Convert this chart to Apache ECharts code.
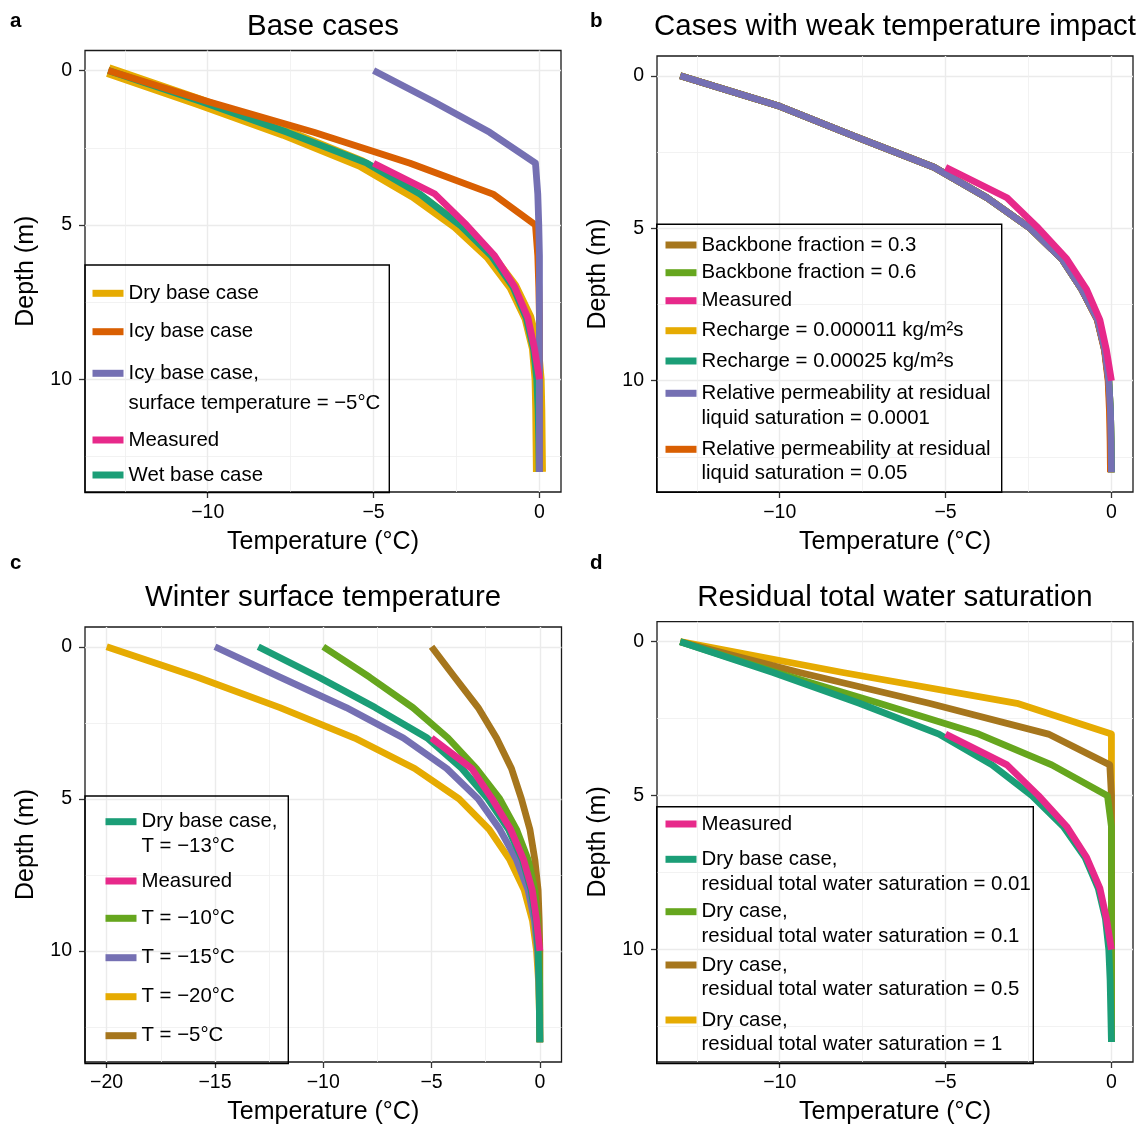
<!DOCTYPE html>
<html>
<head>
<meta charset="utf-8">
<title>Temperature profiles</title>
<script src="https://cdn.jsdelivr.net/npm/echarts@6/dist/echarts.min.js"></script>
<style>
  html, body { margin: 0; padding: 0; background: #fff; }
  #chart { width: 1142px; height: 1126px; }
</style>
</head>
<body>
<div id="chart"></div>
<script>
// depths (m) of the modelled profiles and of the measured profile
var depthModel = [0, 1, 2, 3, 4, 5, 6, 7, 8, 9, 10, 11, 12, 13];
var depthMeasured = [3, 4, 5, 6, 7, 8, 9, 10];
var measured = [-5.0, -3.15, -2.2, -1.35, -0.75, -0.35, -0.15, 0.0];

// a - base cases
var aDryBase = [-13.0, -10.3, -7.7, -5.4, -3.8, -2.5, -1.5, -0.8, -0.35, -0.12, -0.04, -0.02, -0.01, 0.0];
var aWetBase = [-13.0, -10.2, -7.6, -5.2, -3.6, -2.4, -1.45, -0.8, -0.4, -0.18, -0.08, -0.04, -0.02, -0.01];
var aIcyBase = [-13.0, -10.0, -6.8, -3.9, -1.4, -0.12, -0.05, -0.02, 0, 0, 0, 0, 0, 0];
var aIcyWarm = [-5.0, -3.2, -1.5, -0.12, -0.05, -0.02, 0, 0, 0, 0, 0, 0, 0, 0];

// b - cases with weak temperature impact
var bBackbone03 = [-13.0, -10.0, -7.7, -5.35, -3.75, -2.45, -1.5, -0.9, -0.42, -0.2, -0.09, -0.04, -0.02, -0.01];
var bBackbone06 = [-13.0, -10.0, -7.7, -5.35, -3.75, -2.45, -1.5, -0.9, -0.42, -0.2, -0.08, -0.03, -0.01, 0.0];
var bRecharge1 = [-13.0, -10.0, -7.7, -5.35, -3.75, -2.45, -1.5, -0.9, -0.42, -0.2, -0.08, -0.03, -0.01, 0.0];
var bRecharge2 = [-13.0, -10.0, -7.7, -5.35, -3.75, -2.45, -1.5, -0.9, -0.42, -0.2, -0.08, -0.03, -0.01, 0.0];
var bRelPerm005 = [-13.0, -10.0, -7.7, -5.35, -3.75, -2.45, -1.5, -0.9, -0.43, -0.21, -0.1, -0.06, -0.04, -0.03];
var bRelPerm00001 = [-13.0, -10.0, -7.7, -5.35, -3.75, -2.45, -1.5, -0.9, -0.42, -0.2, -0.08, -0.03, -0.01, 0.0];

// c - winter surface temperature
var cT5 = [-5.0, -3.93, -2.85, -2.0, -1.31, -0.85, -0.46, -0.23, -0.08, -0.03, 0, 0, 0, 0];
var cT10 = [-10.0, -7.86, -5.86, -4.24, -2.93, -1.85, -1.08, -0.54, -0.23, -0.1, -0.04, -0.01, 0, 0];
var cT13 = [-13.0, -10.2, -7.6, -5.2, -3.6, -2.4, -1.45, -0.8, -0.4, -0.18, -0.08, -0.04, -0.02, 0.0];
var cT15 = [-15.0, -12.0, -8.94, -6.3, -4.3, -2.85, -1.85, -1.08, -0.54, -0.25, -0.1, -0.04, -0.01, 0.0];
var cT20 = [-20.0, -15.8, -12.0, -8.55, -5.78, -3.73, -2.34, -1.39, -0.72, -0.34, -0.15, -0.06, -0.02, 0.0];

// d - residual total water saturation
var dSat001 = [-13.0, -10.2, -7.6, -5.2, -3.6, -2.4, -1.45, -0.8, -0.4, -0.18, -0.08, -0.04, -0.02, 0.0];
var dSat01 = [-13.0, -10.1, -7.0, -4.0, -1.8, -0.12, 0, 0, 0, 0, 0, 0, 0, 0];
var dSat05 = [-13.0, -9.4, -5.5, -1.9, -0.05, 0, 0, 0, 0, 0, 0, 0, 0, 0];
var dSat1 = [-13.0, -8.1, -2.85, 0, 0, 0, 0, 0, 0, 0, 0, 0, 0, 0];

// tick labels
var depthTicks = [0, 5, 10];
var depthMinor = [2.5, 7.5, 12.5];
var tempTicks = [-10, -5, 0];
var tempMinor = [-12.5, -7.5, -2.5];
var tempTicksWide = [-20, -15, -10, -5, 0];
var tempMinorWide = [-17.5, -12.5, -7.5, -2.5];

var FONT = '"Liberation Sans", Arial, Helvetica, sans-serif';
var C = {
  teal: '#1B9E77', orange: '#D95F02', purple: '#7570B3', pink: '#E7298A',
  green: '#66A61E', yellow: '#E6AB02', brown: '#A6761D'
};
var LW = 6.8;
var LEGEND_FS = 20.4;

function pairs(temps, depths) {
  return temps.map(function (t, i) { return [t, depths[i]]; });
}

// panel layout; series listed in drawing order
var panels = [
  {
    grid: { left: 85, top: 50.5, width: 476, height: 441.5 },
    xMin: -13.7, xMax: 0.65, xMajor: tempTicks, xMinor: tempMinor,
    series: [
      ['Dry base case', C.yellow, aDryBase, depthModel, 13],
      ['Wet base case', C.teal, aWetBase, depthModel],
      ['Icy base case', C.orange, aIcyBase, depthModel],
      ['Icy base case,\nsurface temperature = \u22125\u00b0C', C.purple, aIcyWarm, depthModel],
      ['Measured', C.pink, measured, depthMeasured]
    ]
  },
  {
    grid: { left: 657, top: 56, width: 476, height: 436 },
    xMin: -13.7, xMax: 0.65, xMajor: tempTicks, xMinor: tempMinor,
    series: [
      ['Backbone fraction = 0.3', C.brown, bBackbone03, depthModel],
      ['Backbone fraction = 0.6', C.green, bBackbone06, depthModel],
      ['Recharge = 0.000011 kg/m\u00b2s', C.yellow, bRecharge1, depthModel],
      ['Recharge = 0.00025 kg/m\u00b2s', C.teal, bRecharge2, depthModel],
      ['Relative permeability at residual\nliquid saturation = 0.05', C.orange, bRelPerm005, depthModel],
      ['Relative permeability at residual\nliquid saturation = 0.0001', C.purple, bRelPerm00001, depthModel],
      ['Measured', C.pink, measured, depthMeasured]
    ]
  },
  {
    grid: { left: 85, top: 627, width: 476.5, height: 436.5 },
    xMin: -21, xMax: 1, xMajor: tempTicksWide, xMinor: tempMinorWide,
    series: [
      ['T = \u22125\u00b0C', C.brown, cT5, depthModel],
      ['T = \u221220\u00b0C', C.yellow, cT20, depthModel],
      ['T = \u221215\u00b0C', C.purple, cT15, depthModel],
      ['T = \u221210\u00b0C', C.green, cT10, depthModel],
      ['Dry base case,\nT = \u221213\u00b0C', C.teal, cT13, depthModel],
      ['Measured', C.pink, measured, depthMeasured]
    ]
  },
  {
    grid: { left: 657, top: 621.7, width: 476, height: 441.6 },
    xMin: -13.7, xMax: 0.65, xMajor: tempTicks, xMinor: tempMinor,
    series: [
      ['Dry case,\nresidual total water saturation = 1', C.yellow, dSat1, depthModel],
      ['Dry case,\nresidual total water saturation = 0.5', C.brown, dSat05, depthModel],
      ['Dry case,\nresidual total water saturation = 0.1', C.green, dSat01, depthModel],
      ['Dry base case,\nresidual total water saturation = 0.01', C.teal, dSat001, depthModel],
      ['Measured', C.pink, measured, depthMeasured]
    ]
  }
];

// legend entries: [name, key left, key centre y, line height]
var legendRows = [
  ['Dry base case', 92.5, 293.3, 22],
  ['Icy base case', 92.5, 331.7, 22],
  ['Icy base case,\nsurface temperature = \u22125\u00b0C', 92.5, 373.3, 30],
  ['Measured', 92.5, 440, 22],
  ['Wet base case', 92.5, 475, 22],

  ['Backbone fraction = 0.3', 665.5, 245, 22],
  ['Backbone fraction = 0.6', 665.5, 272.7, 22],
  ['Measured', 665.5, 300.7, 22],
  ['Recharge = 0.000011 kg/m\u00b2s', 665.5, 330.7, 22],
  ['Recharge = 0.00025 kg/m\u00b2s', 665.5, 361, 22],
  ['Relative permeability at residual\nliquid saturation = 0.0001', 665.5, 393.3, 25],
  ['Relative permeability at residual\nliquid saturation = 0.05', 665.5, 449.3, 24.5],

  ['Dry base case,\nT = \u221213\u00b0C', 105.5, 821.7, 25],
  ['Measured', 105.5, 881, 22],
  ['T = \u221210\u00b0C', 105.5, 918.3, 22],
  ['T = \u221215\u00b0C', 105.5, 957.7, 22],
  ['T = \u221220\u00b0C', 105.5, 996.7, 22],
  ['T = \u22125\u00b0C', 105.5, 1035.7, 22],

  ['Measured', 665.5, 824, 22],
  ['Dry base case,\nresidual total water saturation = 0.01', 665.5, 859.3, 24.7],
  ['Dry case,\nresidual total water saturation = 0.1', 665.5, 911.7, 24.7],
  ['Dry case,\nresidual total water saturation = 0.5', 665.5, 965, 24.7],
  ['Dry case,\nresidual total water saturation = 1', 665.5, 1020, 24.7]
];

var legendBoxes = [
  [85, 265, 304.3, 227.5],
  [656.7, 224.3, 345, 268],
  [85, 796, 203.3, 267.5],
  [656.7, 806.7, 376.6, 256.8]
];

function minusFmt(v) {
  return v < 0 ? '\u2212' + Math.abs(v) : String(v);
}

var grids = [], xAxes = [], yAxes = [], series = [];
panels.forEach(function (p, i) {
  grids.push(Object.assign({ show: true, borderColor: '#1a1a1a', borderWidth: 1.3, backgroundColor: 'transparent' }, p.grid));
  var labelStyle = { fontFamily: FONT, fontSize: 19.5, color: '#000' };
  var tickStyle = { color: '#333', width: 1.3 };
  var nameStyle = { fontFamily: FONT, fontSize: 25, color: '#000' };
  xAxes.push({
    type: 'value', gridIndex: i, min: p.xMin, max: p.xMax, position: 'bottom',
    name: 'Temperature (\u00b0C)', nameLocation: 'middle', nameGap: 38,
    nameTextStyle: nameStyle,
    axisLine: { show: false, onZero: false },
    axisTick: { show: true, length: 6, lineStyle: tickStyle, customValues: p.xMajor },
    axisLabel: Object.assign({ customValues: p.xMajor, margin: 11, formatter: minusFmt }, labelStyle),
    splitLine: { show: true, lineStyle: { color: '#EBEBEB', width: 1.4 } }
  });
  xAxes.push({
    type: 'value', gridIndex: i, min: p.xMin, max: p.xMax, position: 'top',
    axisLine: { show: false, onZero: false }, axisLabel: { show: false },
    axisTick: { show: false, customValues: p.xMinor },
    splitLine: { show: true, lineStyle: { color: '#EFEFEF', width: 0.8 } }
  });
  yAxes.push({
    type: 'value', gridIndex: i, min: -0.65, max: 13.65, inverse: true, position: 'left',
    name: 'Depth (m)', nameLocation: 'middle', nameGap: 46,
    nameTextStyle: nameStyle,
    axisLine: { show: false, onZero: false },
    axisTick: { show: true, length: 6, lineStyle: tickStyle, customValues: depthTicks },
    axisLabel: Object.assign({ customValues: depthTicks, margin: 13 }, labelStyle),
    splitLine: { show: true, lineStyle: { color: '#EBEBEB', width: 1.4 } }
  });
  yAxes.push({
    type: 'value', gridIndex: i, min: -0.65, max: 13.65, inverse: true, position: 'right',
    axisLine: { show: false, onZero: false }, axisLabel: { show: false },
    axisTick: { show: false, customValues: depthMinor },
    splitLine: { show: true, lineStyle: { color: '#EFEFEF', width: 0.8 } }
  });
  p.series.forEach(function (s) {
    series.push({
      name: s[0], type: 'line', xAxisIndex: 2 * i, yAxisIndex: 2 * i,
      data: pairs(s[2], s[3]), color: s[1],
      symbol: 'none', showSymbol: false, silent: true,
      lineStyle: { color: s[1], width: s[4] || LW, cap: 'butt', join: 'round' }
    });
  });
});

var legends = legendRows.map(function (r) {
  var name = r[0], lh = r[3];
  var multi = name.indexOf('\n') >= 0;
  return {
    data: [name], orient: 'vertical', left: r[1],
    top: multi ? r[2] - 1.5 * lh : r[2] - lh / 2,
    padding: 0, itemWidth: 31, itemHeight: 7, itemGap: 0,
    icon: 'rect', selectedMode: false,
    itemStyle: { borderWidth: 0 },
    formatter: multi ? function (n) { return '\n' + n; } : '{name}',
    textStyle: { fontFamily: FONT, fontSize: LEGEND_FS, color: '#000', lineHeight: lh }
  };
});

var titleStyle = { fontFamily: FONT, fontSize: 29.4, fontWeight: 'normal', color: '#000' };
var tagStyle = { fontFamily: FONT, fontSize: 20.5, fontWeight: 'bold', color: '#000' };
var titles = [
  { text: 'Base cases', left: 323, top: 12, textAlign: 'center', padding: 0, textStyle: titleStyle },
  { text: 'Cases with weak temperature impact', left: 895, top: 12, textAlign: 'center', padding: 0, textStyle: titleStyle },
  { text: 'Winter surface temperature', left: 323, top: 583.5, textAlign: 'center', padding: 0, textStyle: titleStyle },
  { text: 'Residual total water saturation', left: 895, top: 583.5, textAlign: 'center', padding: 0, textStyle: titleStyle },
  { text: 'a', left: 10, top: 10.5, padding: 0, textStyle: tagStyle },
  { text: 'b', left: 590, top: 10.5, padding: 0, textStyle: tagStyle },
  { text: 'c', left: 10, top: 553, padding: 0, textStyle: tagStyle },
  { text: 'd', left: 590, top: 553, padding: 0, textStyle: tagStyle }
];

var boxes = legendBoxes.map(function (b) {
  return {
    type: 'rect', z: 100, silent: true,
    shape: { x: b[0], y: b[1], width: b[2], height: b[3] },
    style: { fill: 'none', stroke: '#000', lineWidth: 1.4 }
  };
});

var chart = echarts.init(document.getElementById('chart'), null, { renderer: 'canvas' });
chart.setOption({
  animation: false,
  backgroundColor: '#fff',
  textStyle: { fontFamily: FONT },
  title: titles,
  grid: grids,
  xAxis: xAxes,
  yAxis: yAxes,
  legend: legends,
  graphic: boxes,
  series: series
});
</script>
</body>
</html>
